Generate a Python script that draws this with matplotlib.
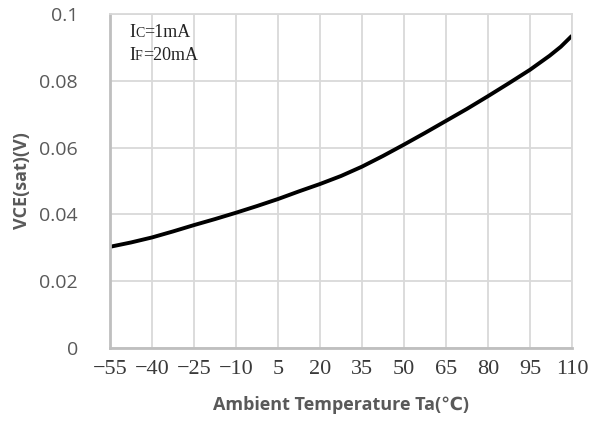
import matplotlib
matplotlib.use("Agg")
import matplotlib.pyplot as plt
from matplotlib.offsetbox import TextArea, HPacker, VPacker, AnchoredOffsetbox

# Data
temp = [-55, -47.5, -40, -32.5, -25, -17.5, -10, -2.5, 5, 12.5, 20, 27.5,
        35, 42.5, 50, 57.5, 65, 72.5, 80, 87.5, 95, 102, 106, 110]
vce = [0.0303, 0.0316, 0.0331, 0.0349, 0.0368, 0.0386, 0.0405, 0.0425,
       0.0446, 0.0469, 0.0491, 0.0515, 0.0543, 0.0575, 0.0609, 0.0644,
       0.0680, 0.0716, 0.0754, 0.0793, 0.0833, 0.0875, 0.0902, 0.0935]

xticks = [-55, -40, -25, -10, 5, 20, 35, 50, 65, 80, 95, 110]
yticks = [0, 0.02, 0.04, 0.06, 0.08, 0.1]
ytick_labels = ["0", "0.02", "0.04", "0.06", "0.08", "0.1"]

sans = ["Open Sans", "DejaVu Sans"]
serif = ["Liberation Serif", "DejaVu Serif"]

fig = plt.figure(figsize=(5.92, 4.32), dpi=100)
ax = fig.add_axes([110/592, 1-348/432, 462/592, 334/432])

ax.plot(temp, vce, color="black", lw=2.8, solid_capstyle="butt", solid_joinstyle="round")

ax.set_xlim(-55, 110)
ax.set_ylim(0, 0.1)
ax.set_xticks(xticks)
ax.set_yticks(yticks)
ax.set_xticklabels([str(t).replace("-", "\u2212") for t in xticks],
                   family=serif, fontsize=16, color="#3a3a3a")
ax.set_yticklabels(ytick_labels, family=sans, fontsize=14, color="#595959")
ax.tick_params(length=0)
ax.tick_params(axis="y", pad=23)
ax.tick_params(axis="x", pad=9)

ax.grid(True, color="#D9D9D9", lw=1.3)
ax.set_axisbelow(True)
for s in ["top", "right"]:
    ax.spines[s].set_color("#D9D9D9")
    ax.spines[s].set_linewidth(1.3)
for s in ["left", "bottom"]:
    ax.spines[s].set_color("#BFBFBF")
    ax.spines[s].set_linewidth(2)

ax.set_xlabel("Ambient Temperature Ta(\u2103)", family=sans, fontsize=13,
              fontweight="bold", color="#595959", labelpad=12)
ax.set_ylabel("VCE(sat)(V)", family=sans, fontsize=13,
              fontweight="bold", color="#595959", labelpad=6)

# condition text with small-cap subscripts
def cond(big, small, rest):
    props = dict(family=serif, color="#222222")
    return HPacker(children=[TextArea(big, textprops=dict(size=13, **props)),
                             TextArea(small, textprops=dict(size=10, **props)),
                             TextArea(rest, textprops=dict(size=13, **props))],
                   align="baseline", pad=0, sep=0)

box = VPacker(children=[cond("I", "C", "=1mA"), cond("I", "F", "=20mA")],
              align="left", pad=0, sep=4)
ab = AnchoredOffsetbox(loc="upper left", child=box, pad=0, frameon=False,
                       bbox_to_anchor=(129/592, 1-24/432),
                       bbox_transform=fig.transFigure, borderpad=0)
ax.add_artist(ab)

fig.savefig("out.png", dpi=100)
